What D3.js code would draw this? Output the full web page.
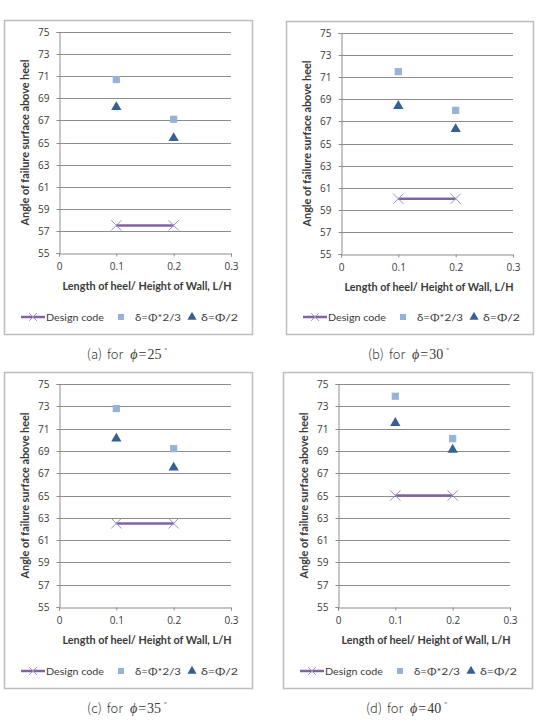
<!DOCTYPE html>
<html>
<head>
<meta charset="utf-8">
<script src="https://cdn.jsdelivr.net/npm/d3@7.9.0/dist/d3.min.js"></script>
<style>
  html, body { margin: 0; padding: 0; background: #fff; }
  svg { display: block; }
  .tick text { font-family: "Open Sans", sans-serif; font-size: 10px; fill: #3a3a3a; }
</style>
</head>
<body>
<div id="chart"></div>
<script>
// ---------------- DATA ----------------
const panelLabels = ["(a)", "(b)", "(c)", "(d)"];
const phiValues = [25, 30, 35, 40];
const lhValues = [0.1, 0.2];
const designCode = [57.5, 60, 62.5, 65];
const deltaTwoThirds = [[70.7, 67.1], [71.5, 68.0], [72.8, 69.2], [73.9, 70.1]];
const deltaHalf = [[68.2, 65.4], [68.4, 66.3], [70.1, 67.5], [71.5, 69.1]];
const yTicks = [55, 57, 59, 61, 63, 65, 67, 69, 71, 73, 75];
const xTicks = [0, 0.1, 0.2, 0.3];
const legendLabels = ["Design code", "δ=Φ*2/3", "δ=Φ/2"];

// panel frames (border boxes)
const frames = [
  { x: 4, y: 20, w: 248, h: 314 },
  { x: 286, y: 21, w: 247, h: 313 },
  { x: 4, y: 372, w: 248, h: 316 },
  { x: 283, y: 372, w: 249, h: 316 }
];

const width = 541, height = 720;
const svg = d3.select("#chart").append("svg")
  .attr("width", width).attr("height", height);

const colLine = "#8064a2";
const colSquare = "#95b3d7";
const colTri = "#376092";
const gridCol = "#8c8c8c";

function drawPanel(i) {
  const f = frames[i];
  const g = svg.append("g").attr("transform", `translate(${f.x},${f.y})`);

  g.append("rect")
    .attr("x", 0.5).attr("y", 0.5)
    .attr("width", f.w).attr("height", f.h)
    .attr("fill", "#fff").attr("stroke", "#bdbdbd").attr("stroke-width", 1.5);

  const plotW = 172;
  const plotH = f.h > 314 ? 223 : 221;
  const plot = g.append("g").attr("transform", `translate(55,12)`);

  const x = d3.scaleLinear().domain([0, 0.3]).range([0, plotW]);
  const y = d3.scaleLinear().domain([55, 75]).range([plotH, 0]);

  // gridlines
  plot.append("g")
    .selectAll("line")
    .data(yTicks.slice(1))
    .join("line")
    .attr("x1", 0).attr("x2", plotW)
    .attr("y1", d => Math.round(y(d)) + 0.5).attr("y2", d => Math.round(y(d)) + 0.5)
    .attr("stroke", gridCol).attr("stroke-width", 1);

  // y axis
  const yAxis = plot.append("g")
    .attr("transform", "translate(0.5,0)")
    .call(d3.axisLeft(y).tickValues(yTicks).tickSize(3).tickPadding(7));
  yAxis.select(".domain").attr("stroke", gridCol);
  yAxis.selectAll(".tick line").attr("stroke", gridCol);
  yAxis.selectAll(".tick").attr("transform", d => `translate(0,${Math.round(y(d)) + 0.5})`);

  // x axis
  const xAxis = plot.append("g")
    .attr("transform", `translate(0,${Math.round(plotH) + 0.5})`)
    .call(d3.axisBottom(x).tickValues(xTicks).tickSize(3).tickPadding(6)
      .tickFormat(d => d === 0 ? "0" : d3.format(".1f")(d)));
  xAxis.select(".domain").attr("stroke", gridCol);
  xAxis.selectAll(".tick line").attr("stroke", gridCol);

  // design code line
  const lineData = lhValues.map(v => [v, designCode[i]]);
  plot.append("path")
    .datum(lineData)
    .attr("d", d3.line().x(d => x(d[0])).y(d => y(d[1])))
    .attr("stroke", colLine).attr("stroke-width", 2.5).attr("fill", "none");

  const cross = d3.symbol().type(d3.symbolX).size(70);
  plot.append("g").selectAll("path")
    .data(lineData).join("path")
    .attr("transform", d => `translate(${x(d[0])},${y(d[1])})`)
    .attr("d", cross)
    .attr("fill", "none").attr("stroke", "#9b8fbf").attr("stroke-width", 1);

  // squares
  const square = d3.symbol().type(d3.symbolSquare).size(52);
  plot.append("g").selectAll("path")
    .data(lhValues.map((v, j) => [v, deltaTwoThirds[i][j]])).join("path")
    .attr("transform", d => `translate(${x(d[0])},${y(d[1])})`)
    .attr("d", square)
    .attr("fill", colSquare);

  // triangles
  const tri = d3.symbol().type(d3.symbolTriangle).size(46);
  plot.append("g").selectAll("path")
    .data(lhValues.map((v, j) => [v, deltaHalf[i][j]])).join("path")
    .attr("transform", d => `translate(${x(d[0])},${y(d[1])})`)
    .attr("d", tri)
    .attr("fill", colTri);

  // axis titles
  plot.append("text")
    .attr("x", plotW / 2 + 2).attr("y", plotH + 37)
    .attr("text-anchor", "middle")
    .attr("font-family", "Lato, sans-serif").attr("font-weight", "bold")
    .attr("font-size", 10.5).attr("fill", "#3a3a3a")
    .attr("textLength", 169).attr("lengthAdjust", "spacingAndGlyphs")
    .text("Length of heel/ Height of Wall,  L/H");

  plot.append("text")
    .attr("transform", `translate(-30,${plotH / 2}) rotate(-90)`)
    .attr("text-anchor", "middle")
    .attr("font-family", "Lato, sans-serif").attr("font-weight", "bold")
    .attr("font-size", 10.5).attr("fill", "#3a3a3a")
    .attr("textLength", 166).attr("lengthAdjust", "spacingAndGlyphs")
    .text("Angle of failure surface above heel");

  // legend
  const lg = g.append("g").attr("transform", `translate(0,${f.h - 17})`);
  lg.append("line").attr("x1", 17).attr("x2", 41).attr("y1", 0).attr("y2", 0)
    .attr("stroke", colLine).attr("stroke-width", 2.5);
  lg.append("path").attr("transform", "translate(29,0)")
    .attr("d", d3.symbol().type(d3.symbolX).size(40))
    .attr("fill", "none").attr("stroke", "#9b8fbf").attr("stroke-width", 1);
  lg.append("path").attr("transform", "translate(117,0)")
    .attr("d", d3.symbol().type(d3.symbolSquare).size(36)).attr("fill", colSquare);
  lg.append("path").attr("transform", "translate(188,0)")
    .attr("d", d3.symbol().type(d3.symbolTriangle).size(36)).attr("fill", colTri);
  const lx = [42, 131, 197];
  const lw = [58, 46, 37];
  lg.selectAll("text.leg").data(legendLabels).join("text")
    .attr("class", "leg")
    .attr("x", (d, k) => lx[k]).attr("y", 3.5)
    .attr("font-family", "Lato, sans-serif").attr("font-size", 10)
    .attr("fill", "#3a3a3a")
    .attr("textLength", (d, k) => lw[k]).attr("lengthAdjust", "spacingAndGlyphs")
    .text(d => d);

  // caption
  const cap = svg.append("text")
    .attr("x", f.x + f.w / 2 - 1).attr("y", f.y + f.h + 25)
    .attr("text-anchor", "middle")
    .attr("font-family", "'Noto Sans CJK KR', sans-serif").attr("font-weight", 300)
    .attr("font-size", 13).attr("fill", "#3a3a3a");
  cap.append("tspan").text(panelLabels[i]);
  cap.append("tspan").attr("dx", 5).text("for");
  cap.append("tspan").attr("dx", 7).attr("font-family", "'Liberation Serif', serif").attr("font-style", "italic").attr("font-size", 14).text("ϕ");
  cap.append("tspan").attr("dx", 1).attr("font-family", "'Liberation Serif', serif").attr("font-size", 14).text("=");
  cap.append("tspan").attr("dx", 1).attr("font-family", "'Liberation Serif', serif").attr("font-size", 14).text(phiValues[i]);
  cap.append("tspan").attr("dx", 3).attr("font-size", 8).attr("dy", -5).text("°");
}

frames.forEach((f, i) => drawPanel(i));
</script>
</body>
</html>
